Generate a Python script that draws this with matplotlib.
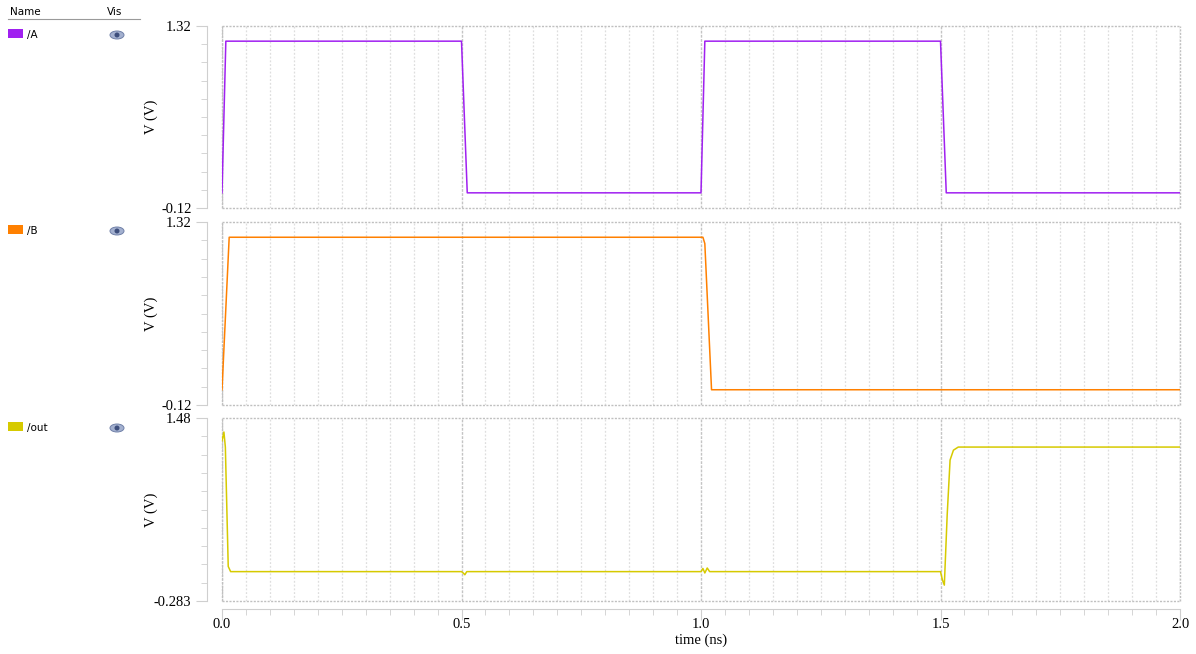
import matplotlib
matplotlib.use("Agg")
import matplotlib.pyplot as plt
from matplotlib.ticker import MultipleLocator, FixedLocator
from matplotlib.patches import Ellipse, Rectangle
from matplotlib.lines import Line2D
import numpy as np

# ---- transient waveforms (time in ns, voltage in V) ----
t_A = [0.0, 0.008, 0.500, 0.512, 1.000, 1.008, 1.500, 1.512, 2.0]
v_A = [0.0, 1.20, 1.20, 0.0, 0.0, 1.20, 1.20, 0.0, 0.0]

t_B = [0.0, 0.015, 1.004, 1.008, 1.022, 2.0]
v_B = [0.0, 1.20, 1.20, 1.15, 0.0, 0.0]

t_out = [0.0, 0.004, 0.007, 0.013, 0.018, 0.500, 0.504, 0.507, 0.511,
         1.000, 1.004, 1.008, 1.013, 1.018, 1.500, 1.504, 1.508, 1.514,
         1.520, 1.527, 1.537, 1.550, 2.0]
v_out = [1.26, 1.345, 1.20, 0.05, 0.0, 0.0, -0.015, -0.03, 0.0,
         0.0, 0.03, -0.013, 0.035, 0.0, 0.0, -0.08, -0.13, 0.55,
         1.075, 1.17, 1.20, 1.20, 1.20]

names = ["/A", "/B", "/out"]
colors = ["#a020f0", "#ff8000", "#d6ca00"]
ylims = [(-0.12, 1.32), (-0.12, 1.32), (-0.283, 1.48)]
ylabels = [("-0.12", "1.32"), ("-0.12", "1.32"), ("-0.283", "1.48")]
series = [(t_A, v_A), (t_B, v_B), (t_out, v_out)]

W, H = 1196, 654
fig = plt.figure(figsize=(W / 100, H / 100), dpi=100)
fig.patch.set_facecolor("white")

serif = ["Liberation Serif", "DejaVu Serif"]
grid_major = "#c4c4c4"
grid_minor = "#dedede"
frame_col = "#c0c0c0"
axis_col = "#cfcfcf"

# panel pixel extents (top, bottom)
panels = [(26, 208), (222, 405), (418, 601)]
x0, x1 = 222, 1180

for i, ((top, bot), (t, v)) in enumerate(zip(panels, series)):
    ax = fig.add_axes([x0 / W, 1 - bot / H, (x1 - x0) / W, (bot - top) / H])
    lo, hi = ylims[i]
    ax.set_xlim(0, 2.0)
    ax.set_ylim(lo, hi)

    # vertical grid
    ax.xaxis.set_major_locator(MultipleLocator(0.5))
    ax.xaxis.set_minor_locator(MultipleLocator(0.05))
    ax.grid(which="major", axis="x", color=grid_major, lw=1.0, ls=(0, (2, 1)))
    ax.grid(which="minor", axis="x", color=grid_minor, lw=0.9, ls=(0, (1.5, 1.5)))
    ax.set_axisbelow(True)

    ax.plot(t, v, color=colors[i], lw=1.1, zorder=3)

    # dotted frame
    for spine in ["top", "right", "bottom"]:
        ax.spines[spine].set_visible(False)
    for xs, ys in [([0, 1], [1, 1]), ([0, 1], [0, 0]), ([0, 0], [0, 1]), ([1, 1], [0, 1])]:
        ax.add_line(Line2D(xs, ys, transform=ax.transAxes, color=frame_col,
                           lw=1.0, ls=(0, (1.5, 1)), clip_on=False, zorder=2))

    # left value axis, detached from the plot area
    ax.spines["left"].set_position(("outward", 11))
    ax.spines["left"].set_color(axis_col)
    ax.set_yticks([lo, hi])
    ax.set_yticklabels(list(ylabels[i]), fontfamily=serif, fontsize=10.5)
    ax.yaxis.set_minor_locator(FixedLocator(np.linspace(lo, hi, 11)[1:-1]))
    ax.tick_params(axis="y", which="major", length=8, color=axis_col, pad=3)
    ax.tick_params(axis="y", which="minor", length=4, color=axis_col)
    ax.set_ylabel("V (V)", fontfamily=serif, fontsize=10.5)
    ax.yaxis.set_label_coords((158 - x0) / (x1 - x0), 0.5)

    if i < 2:
        ax.tick_params(axis="x", which="both", bottom=False, labelbottom=False)
    else:
        ax.spines["bottom"].set_visible(True)
        ax.spines["bottom"].set_position(("outward", 6))
        ax.spines["bottom"].set_color(axis_col)
        ax.set_xticks([0.0, 0.5, 1.0, 1.5, 2.0])
        ax.set_xticklabels(["0.0", "0.5", "1.0", "1.5", "2.0"],
                           fontfamily=serif, fontsize=10.5)
        ax.tick_params(axis="x", which="major", length=8, color=axis_col, pad=-1.5)
        ax.tick_params(axis="x", which="minor", length=4, color=axis_col)
        ax.set_xlabel("time (ns)", fontfamily=serif, fontsize=10.5)
        ax.xaxis.set_label_coords(0.5, -(634 - bot) / (bot - top))

# ---- signal list on the left ----
sans = ["DejaVu Sans"]
fig.text(10 / W, 1 - 12 / H, "Name", fontsize=7.5, family=sans, va="center", ha="left")
fig.text(107 / W, 1 - 12 / H, "Vis", fontsize=7.5, family=sans, va="center", ha="left")
fig.add_artist(Line2D([8 / W, 140 / W], [1 - 18.5 / H, 1 - 18.5 / H],
                      color="#9a9a9a", lw=0.8))

rows_y = [34, 230, 427]
for name, col, ry in zip(names, colors, rows_y):
    fig.add_artist(Rectangle((8 / W, 1 - (ry + 4) / H), 15 / W, 9 / H,
                             facecolor=col, edgecolor="none"))
    fig.text(27 / W, 1 - (ry + 1) / H, name, fontsize=7.5, family=sans,
             va="center", ha="left")
    cx, cy = 117 / W, 1 - (ry + 1) / H
    fig.add_artist(Ellipse((cx, cy), 14 / W, 8 / H, facecolor="#a3b0cf",
                           edgecolor="#7080a8", lw=0.7))
    fig.add_artist(Ellipse((cx, cy), 5 / W, 5 / H, facecolor="#3d4e7c",
                           edgecolor="none"))

fig.savefig("out.png", dpi=100, facecolor="white")
